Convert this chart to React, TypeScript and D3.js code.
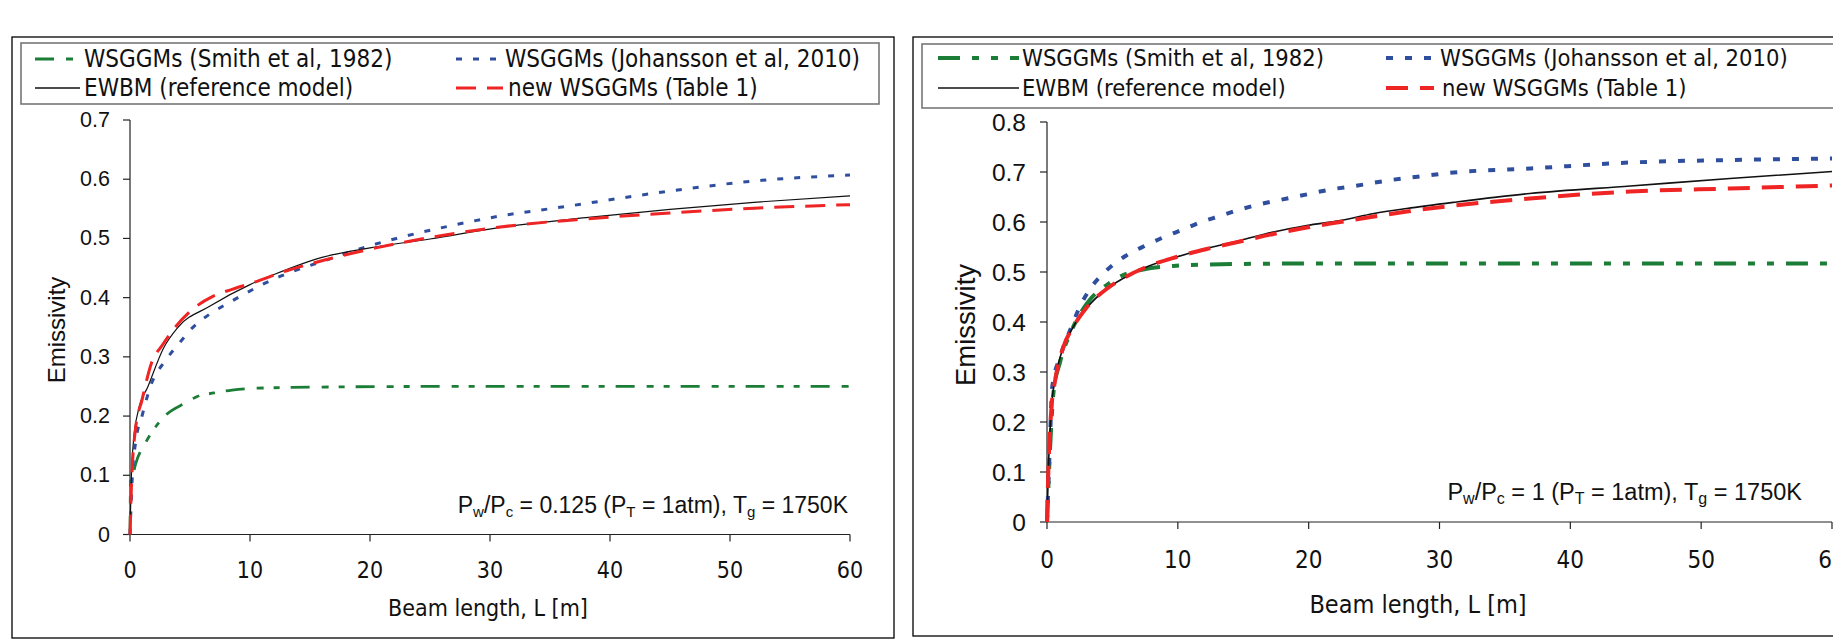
import React from "react";
import * as d3 from "d3";

// ---------- DATA ----------
const xTicks = [0, 10, 20, 30, 40, 50, 60];
const yTicksLeft = [0, 0.1, 0.2, 0.3, 0.4, 0.5, 0.6, 0.7];
const yTicksRight = [0, 0.1, 0.2, 0.3, 0.4, 0.5, 0.6, 0.7, 0.8];

const seriesNames = [
  "WSGGMs (Smith et al, 1982)",
  "WSGGMs (Johansson et al, 2010)",
  "EWBM (reference model)",
  "new WSGGMs (Table 1)",
];

// Left panel: Pw/Pc = 0.125
const leftEwbmL = [0, 0.1, 0.3, 0.7, 1.5, 2.8, 4, 6.6, 10, 12, 16, 20, 25, 31, 38, 45, 52, 60];
const leftEwbmV = [0, 0.09, 0.16, 0.21, 0.25, 0.315, 0.35, 0.385, 0.422, 0.439, 0.468, 0.484, 0.499, 0.519, 0.535, 0.549, 0.561, 0.572];

const leftNewL = [0, 0.1, 0.45, 1, 1.8, 2.7, 3.8, 5.2, 6.9, 8.5, 10.2, 13, 16.3, 20.5, 26, 32, 38, 45, 52, 60];
const leftNewV = [0, 0.07, 0.177, 0.227, 0.29, 0.32, 0.351, 0.38, 0.402, 0.414, 0.425, 0.445, 0.464, 0.484, 0.505, 0.522, 0.533, 0.543, 0.551, 0.557];

const leftJohL = [0, 0.2, 0.5, 1, 1.7, 3, 4.1, 5.2, 6.7, 8.3, 9.7, 11, 12.4, 13.8, 16.3, 19.4, 22.2, 26.4, 30.6, 36, 45, 52, 60];
const leftJohV = [0, 0.1, 0.16, 0.2, 0.25, 0.295, 0.323, 0.349, 0.373, 0.392, 0.408, 0.422, 0.435, 0.446, 0.463, 0.484, 0.5, 0.52, 0.537, 0.553, 0.58, 0.597, 0.607];

const leftSmithL = [0, 0.05, 0.2, 0.45, 1.3, 1.8, 3, 4.6, 5.6, 7, 8.5, 10.5, 16, 25, 40, 60];
const leftSmithV = [0, 0.09, 0.097, 0.118, 0.155, 0.172, 0.202, 0.222, 0.233, 0.239, 0.244, 0.247, 0.249, 0.25, 0.25, 0.25];

// Right panel: Pw/Pc = 1
const rightEwbmL = [0, 0.1, 0.36, 0.6, 1.25, 2, 3, 4.6, 5.8, 7.6, 9.9, 12.2, 14.75, 17.3, 19.85, 22.4, 25, 27.5, 31.3, 36.9, 44.6, 52.2, 60];
const rightEwbmV = [0, 0.1, 0.236, 0.283, 0.35, 0.39, 0.427, 0.467, 0.487, 0.51, 0.53, 0.547, 0.563, 0.58, 0.593, 0.603, 0.617, 0.627, 0.64, 0.657, 0.672, 0.687, 0.701];

const rightNewL = [0, 0.1, 0.36, 0.6, 1.25, 2, 3, 4.6, 5.8, 7.6, 9.9, 12.2, 14.75, 17.3, 19.85, 22.4, 25, 27.5, 30.5, 36.9, 44.6, 52.2, 60];
const rightNewV = [0, 0.1, 0.235, 0.28, 0.35, 0.39, 0.428, 0.467, 0.487, 0.51, 0.53, 0.546, 0.561, 0.576, 0.589, 0.6, 0.611, 0.621, 0.631, 0.647, 0.661, 0.667, 0.673];

const rightJohL = [0, 0.2, 0.4, 1, 1.86, 2.5, 3.26, 4.5, 6, 7.45, 8.86, 10.4, 11.8, 13.2, 14.75, 16.2, 17.6, 19.1, 21.9, 23.5, 26.3, 29.1, 30.7, 36.9, 44.6, 52.2, 60];
const rightJohV = [0, 0.14, 0.27, 0.33, 0.39, 0.43, 0.465, 0.502, 0.532, 0.552, 0.569, 0.585, 0.6, 0.612, 0.625, 0.635, 0.643, 0.651, 0.666, 0.672, 0.684, 0.693, 0.698, 0.707, 0.719, 0.724, 0.727];

const rightSmithL = [0, 0.24, 0.5, 1, 2, 3.26, 4.56, 5.83, 7.35, 9.65, 12.2, 20, 40, 60];
const rightSmithV = [0, 0.15, 0.26, 0.32, 0.39, 0.444, 0.474, 0.494, 0.505, 0.512, 0.515, 0.517, 0.517, 0.517];

// ---------- STYLE ----------
const GREEN = "#1b7d36";
const BLUE = "#2f4f9e";
const RED = "#ef2424";
const BLACK = "#111";
const ARIAL = "'Liberation Sans', Arial, sans-serif";
const COND = "'DejaVu Sans Condensed', 'DejaVu Sans', Verdana, sans-serif";

type PanelCfg = {
  frame: [number, number, number, number];
  legendBox: [number, number, number, number];
  legendRows: [number, number];
  legendCols: { l1: [number, number]; t1: number; l2: [number, number]; t2: number; l3: [number, number]; t3: number; l4: [number, number]; t4: number };
  legendFont: number;
  x0: number; x1: number; y0: number; y1: number; yMax: number;
  yTicks: number[];
  yTickFont: number; yTickRight: number;
  ylabX: number; ylabY: number; ylabFont: number;
  xTickY: number; xTickFont: number;
  xTitleX: number; xTitleY: number; xTitleFont: number;
  annotX: number; annotY: number; annotFont: number; annotRatio: string;
  data: { smith: [number[], number[]]; joh: [number[], number[]]; ewbm: [number[], number[]]; nw: [number[], number[]] };
  w: { smith: number; joh: number; ewbm: number; nw: number };
  dash: { smith: string; joh: string; nw: string };
};

function Panel({ c }: { c: PanelCfg }) {
  const x = d3.scaleLinear().domain([0, 60]).range([c.x0, c.x1]);
  const y = d3.scaleLinear().domain([0, c.yMax]).range([c.y0, c.y1]);
  const line = d3
    .line<[number, number]>()
    .x((d) => x(d[0]))
    .y((d) => y(d[1]))
    .curve(d3.curveMonotoneX);
  const pts = (s: [number[], number[]]) => s[0].map((l, i) => [l, s[1][i]] as [number, number]);
  const [fx, fy, fw, fh] = c.frame;
  const [lx, ly, lw, lh] = c.legendBox;
  const sub = Math.round(c.annotFont * 0.66);
  const lc = c.legendCols;
  return (
    <g>
      <rect x={fx} y={fy} width={fw} height={fh} fill="#fff" stroke="#000" strokeWidth={1.3} />
      <rect x={lx} y={ly} width={lw} height={lh} fill="#fff" stroke="#777" strokeWidth={1.6} />
      {/* legend */}
      <g fontFamily={COND} fontStretch="condensed" fontSize={c.legendFont} fill="#111">
        <line x1={lc.l1[0]} x2={lc.l1[1]} y1={c.legendRows[0]} y2={c.legendRows[0]} stroke={GREEN} strokeWidth={c.w.smith} strokeDasharray={c.dash.smith} />
        <text x={lc.t1} y={c.legendRows[0]} dominantBaseline="central">{seriesNames[0]}</text>
        <line x1={lc.l2[0]} x2={lc.l2[1]} y1={c.legendRows[0]} y2={c.legendRows[0]} stroke={BLUE} strokeWidth={c.w.joh} strokeDasharray={c.dash.joh} />
        <text x={lc.t2} y={c.legendRows[0]} dominantBaseline="central">{seriesNames[1]}</text>
        <line x1={lc.l3[0]} x2={lc.l3[1]} y1={c.legendRows[1]} y2={c.legendRows[1]} stroke={BLACK} strokeWidth={1.3} />
        <text x={lc.t3} y={c.legendRows[1]} dominantBaseline="central">{seriesNames[2]}</text>
        <line x1={lc.l4[0]} x2={lc.l4[1]} y1={c.legendRows[1]} y2={c.legendRows[1]} stroke={RED} strokeWidth={c.w.nw} strokeDasharray={c.dash.nw} />
        <text x={lc.t4} y={c.legendRows[1]} dominantBaseline="central">{seriesNames[3]}</text>
      </g>
      {/* axes */}
      <line x1={c.x0} x2={c.x0} y1={c.y0} y2={c.y1} stroke="#222" strokeWidth={1.2} />
      <line x1={c.x0} x2={c.x1} y1={c.y0} y2={c.y0} stroke="#222" strokeWidth={1.2} />
      {c.yTicks.map((t) => (
        <g key={"y" + t}>
          <line x1={c.x0 - 7} x2={c.x0} y1={y(t)} y2={y(t)} stroke="#222" strokeWidth={1.2} />
          <text x={c.yTickRight} y={y(t)} dominantBaseline="central" textAnchor="end" fontFamily={ARIAL} fontSize={c.yTickFont} fill="#111">
            {String(t)}
          </text>
        </g>
      ))}
      {xTicks.map((t) => (
        <g key={"x" + t}>
          <line x1={x(t)} x2={x(t)} y1={c.y0} y2={c.y0 + 7} stroke="#222" strokeWidth={1.2} />
          <text x={x(t)} y={c.xTickY} dominantBaseline="central" textAnchor="middle" fontFamily={COND} fontStretch="condensed" fontSize={c.xTickFont} fill="#111">
            {String(t)}
          </text>
        </g>
      ))}
      <text x={c.xTitleX} y={c.xTitleY} dominantBaseline="central" textAnchor="middle" fontFamily={COND} fontStretch="condensed" fontSize={c.xTitleFont} fill="#111">
        Beam length, L [m]
      </text>
      <text transform={`translate(${c.ylabX},${c.ylabY}) rotate(-90)`} dominantBaseline="central" textAnchor="middle" fontFamily={ARIAL} fontSize={c.ylabFont} fill="#111">
        Emissivity
      </text>
      {/* series */}
      <path d={line(pts(c.data.smith)) || ""} fill="none" stroke={GREEN} strokeWidth={c.w.smith} strokeDasharray={c.dash.smith} />
      <path d={line(pts(c.data.joh)) || ""} fill="none" stroke={BLUE} strokeWidth={c.w.joh} strokeDasharray={c.dash.joh} />
      <path d={line(pts(c.data.ewbm)) || ""} fill="none" stroke={BLACK} strokeWidth={c.w.ewbm} />
      <path d={line(pts(c.data.nw)) || ""} fill="none" stroke={RED} strokeWidth={c.w.nw} strokeDasharray={c.dash.nw} />
      {/* annotation */}
      <text x={c.annotX} y={c.annotY} textAnchor="end" fontFamily={ARIAL} fontSize={c.annotFont} fill="#111">
        <tspan>P</tspan>
        <tspan fontSize={sub} dy={4}>w</tspan>
        <tspan dy={-4}>/P</tspan>
        <tspan fontSize={sub} dy={4}>c</tspan>
        <tspan dy={-4}>{` = ${c.annotRatio} (P`}</tspan>
        <tspan fontSize={sub} dy={4}>T</tspan>
        <tspan dy={-4}>{" = 1atm), T"}</tspan>
        <tspan fontSize={sub} dy={4}>g</tspan>
        <tspan dy={-4}>{" = 1750K"}</tspan>
      </text>
    </g>
  );
}

const leftCfg: PanelCfg = {
  frame: [12, 37, 882, 601],
  legendBox: [21, 43, 858, 61],
  legendRows: [59, 88],
  legendCols: { l1: [35, 80], t1: 84, l2: [456, 503], t2: 505, l3: [35, 80], t3: 84, l4: [456, 503], t4: 508 },
  legendFont: 24,
  x0: 130, x1: 850, y0: 534.5, y1: 120, yMax: 0.7,
  yTicks: yTicksLeft,
  yTickFont: 21.5, yTickRight: 110,
  ylabX: 56, ylabY: 330, ylabFont: 24,
  xTickY: 570, xTickFont: 23,
  xTitleX: 488, xTitleY: 608, xTitleFont: 23,
  annotX: 848, annotY: 513, annotFont: 23, annotRatio: "0.125",
  data: { smith: [leftSmithL, leftSmithV], joh: [leftJohL, leftJohV], ewbm: [leftEwbmL, leftEwbmV], nw: [leftNewL, leftNewV] },
  w: { smith: 2.8, joh: 3, ewbm: 1.2, nw: 3 },
  dash: { smith: "19 12 7 10 6 11", joh: "6 11", nw: "20 11" },
};

const rightCfg: PanelCfg = {
  frame: [913, 37, 1000, 599],
  legendBox: [922, 44, 1000, 64],
  legendRows: [58, 88],
  legendCols: { l1: [938, 1019], t1: 1022, l2: [1386, 1439], t2: 1440, l3: [938, 1019], t3: 1022, l4: [1386, 1434], t4: 1442 },
  legendFont: 23.5,
  x0: 1047, x1: 1832, y0: 522, y1: 122, yMax: 0.8,
  yTicks: yTicksRight,
  yTickFont: 24.5, yTickRight: 1026,
  ylabX: 965, ylabY: 325, ylabFont: 27.5,
  xTickY: 560, xTickFont: 24,
  xTitleX: 1418, xTitleY: 604, xTitleFont: 25,
  annotX: 1802, annotY: 500, annotFont: 23.5, annotRatio: "1",
  data: { smith: [rightSmithL, rightSmithV], joh: [rightJohL, rightJohV], ewbm: [rightEwbmL, rightEwbmV], nw: [rightNewL, rightNewV] },
  w: { smith: 4, joh: 4, ewbm: 1.6, nw: 4 },
  dash: { smith: "22 12 7 12 7 12", joh: "7 12", nw: "22 12" },
};

export default function App() {
  return (
    <svg width={1833} height={640} style={{ position: "absolute", left: 0, top: 0, background: "#fff" }}>
      <rect x={0} y={0} width={1833} height={640} fill="#fff" />
      <Panel c={leftCfg} />
      <Panel c={rightCfg} />
    </svg>
  );
}
